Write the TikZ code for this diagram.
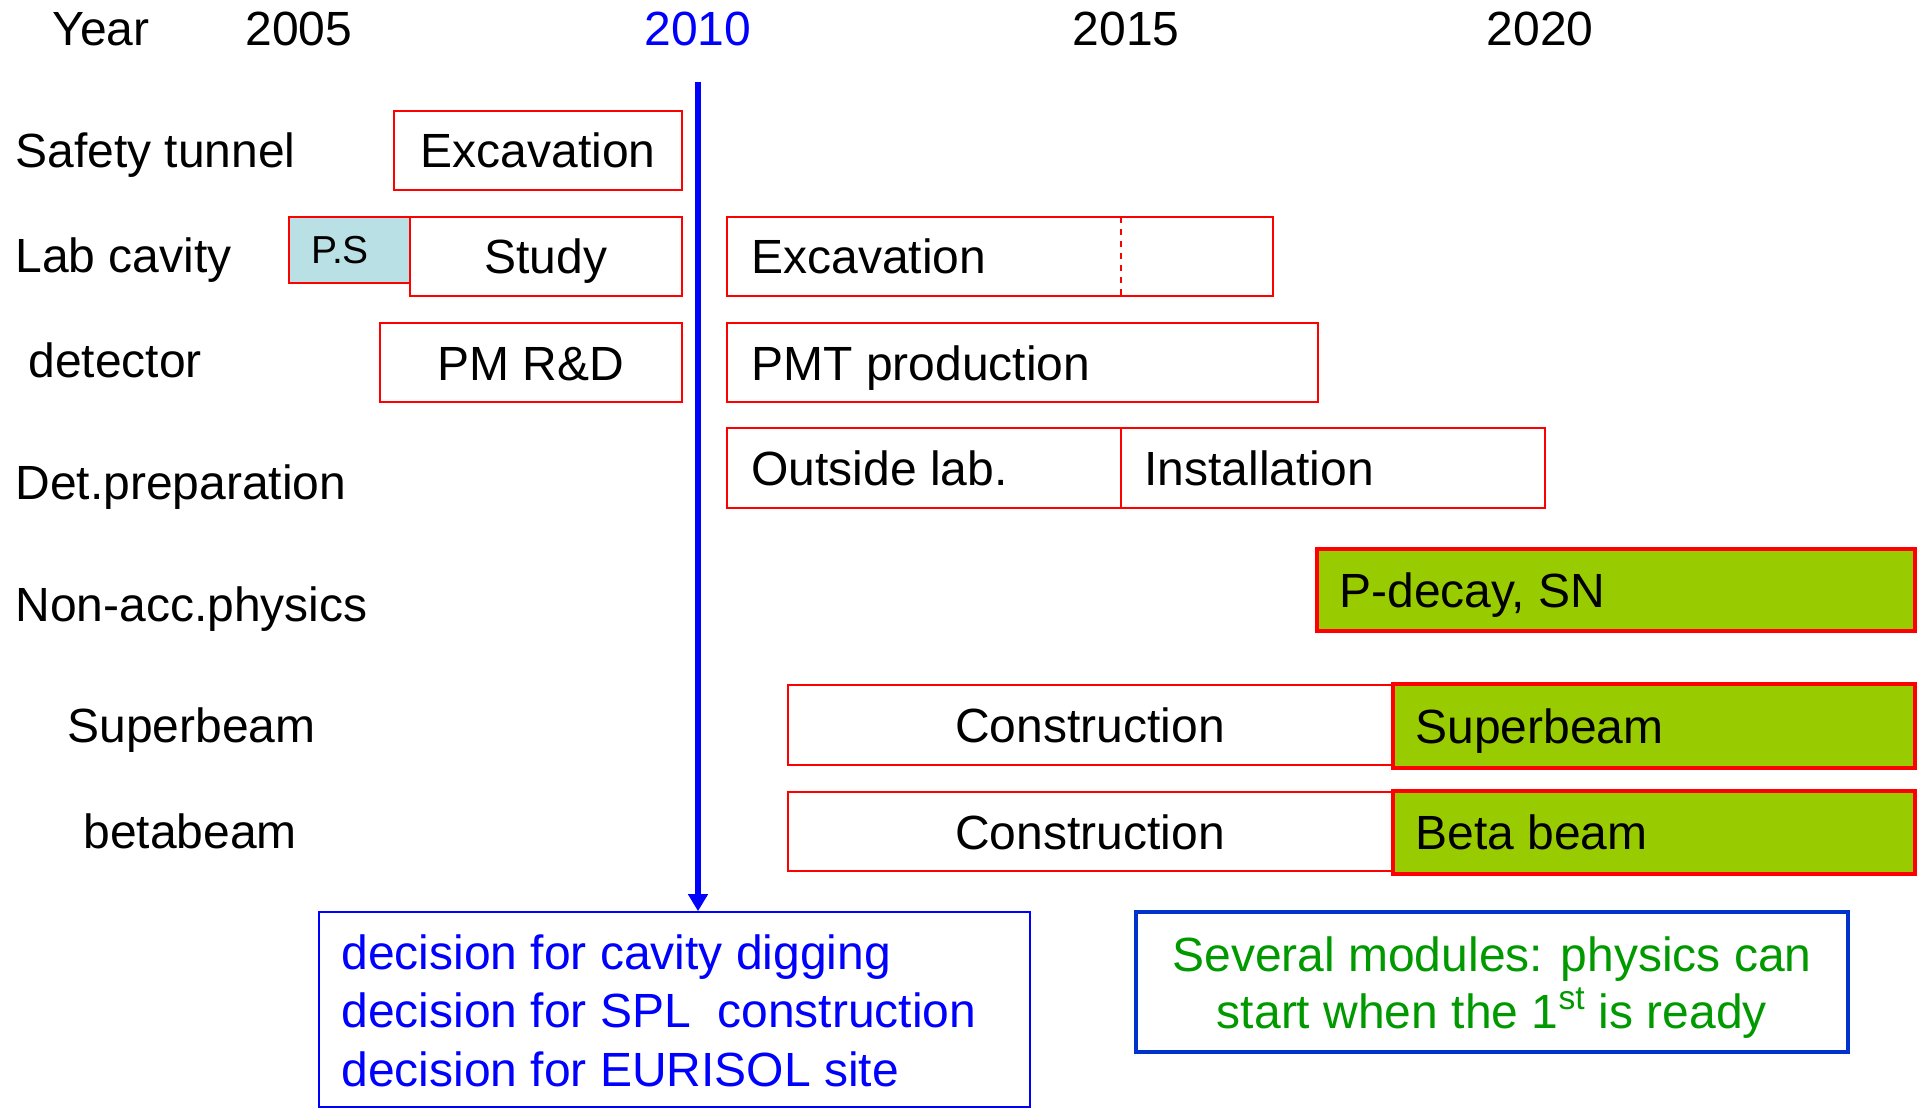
\documentclass[tikz,border=0pt]{standalone}
\usepackage{fontspec}
\setmainfont{Liberation Sans}
\usetikzlibrary{fit,arrows.meta}
\definecolor{barred}{RGB}{255,0,0}
\definecolor{physgreen}{RGB}{153,204,0}
\definecolor{psblue}{RGB}{185,224,228}
\definecolor{txtgreen}{RGB}{0,153,0}
\definecolor{boxblue}{RGB}{0,51,204}
\begin{document}
\begin{tikzpicture}[x=0.5pt,y=-0.5pt,
  every node/.style={inner sep=0pt, font=\fontsize{24}{29}\selectfont},
  lbl/.style={anchor=base west},
  ctr/.style={anchor=base},
  bar/.style={draw=barred, line width=0.9pt, inner sep=0pt},
  phys/.style={draw=barred, line width=1.8pt, fill=physgreen, inner sep=0pt},
  decbox/.style={draw=blue, line width=0.8pt, inner sep=0pt},
  modbox/.style={draw=boxblue, line width=1.8pt, inner sep=0pt}]
\path[use as bounding box] (0,0) rectangle (1921,1112);

% header
\node[lbl] (year) at (52,46) {Year};
\node[ctr] (y2005) at (299,46) {2005};
\node[ctr, text=blue] (y2010) at (698,46) {2010};
\node[ctr] (y2015) at (1126,46) {2015};
\node[ctr] (y2020) at (1540,46) {2020};

% row labels
\node[lbl] (lsafety) at (15,168) {Safety tunnel};
\node[lbl] (llab) at (15,273) {Lab cavity};
\node[lbl] (ldet) at (28,378) {detector};
\node[lbl] (lprep) at (15,499) {Det.preparation};
\node[lbl] (lnon) at (15,621) {Non-acc.physics};
\node[lbl] (lsuper) at (67,742) {Superbeam};
\node[lbl] (lbeta) at (83,848) {betabeam};

% safety tunnel
\node[bar, fit={(394,111)(682,190)}] (sexc) {};
\node[ctr] (sexct) at (538,168) {Excavation};

% lab cavity
\node[bar, fill=psblue, fit={(289,217)(410,283)}] (ps) {};
\node[ctr, font=\fontsize{19.5}{23}\selectfont] (pst) at (340,264) {P.S};
\node[bar, fit={(410,217)(682,296)}] (study) {};
\node[ctr] (studyt) at (546,274) {Study};
\node[bar, fit={(727,217)(1273,296)}] (lexc) {};
\draw[barred, dashed, line width=0.6pt] (1121,217) -- (1121,296);
\node[lbl] (lexct) at (751,274) {Excavation};

% detector
\node[bar, fit={(380,323)(682,402)}] (pmrd) {};
\node[ctr] (pmrdt) at (531,380) {PM R\&D};
\node[bar, fit={(727,323)(1318,402)}] (pmt) {};
\node[lbl] (pmtt) at (751,380) {PMT production};

% det preparation
\node[bar, fit={(727,428)(1121,508)}] (out) {};
\node[lbl] (outt) at (751,485) {Outside lab.};
\node[bar, fit={(1121,428)(1545,508)}] (inst) {};
\node[lbl] (instt) at (1144,485) {Installation};

% non-acc physics
\node[phys, fit={(1317,549)(1915,631)}] (pdec) {};
\node[lbl] (pdect) at (1339,607) {P-decay, SN};

% superbeam
\node[bar, fit={(788,685)(1393,765)}] (sbc) {};
\node[ctr] (sbct) at (1090,742) {Construction};
\node[phys, fit={(1393,684)(1915,768)}] (sbp) {};
\node[lbl] (sbpt) at (1415,743) {Superbeam};

% betabeam
\node[bar, fit={(788,792)(1393,871)}] (bbc) {};
\node[ctr] (bbct) at (1090,849) {Construction};
\node[phys, fit={(1393,791)(1915,874)}] (bbp) {};
\node[lbl] (bbpt) at (1415,849) {Beta beam};

% decision box
\node[decbox, fit={(319,912)(1030,1107)}] (dec) {};
\node[lbl, text=blue] (dec1) at (341,969) {decision for cavity digging};
\node[lbl, text=blue] (dec2) at (341,1027) {decision for SPL\ \ construction};
\node[lbl, text=blue] (dec3) at (341,1086) {decision for EURISOL site};

% modules box
\node[modbox, fit={(1136,912)(1848,1052)}] (mod) {};
\node[ctr, text=txtgreen] (mod1) at (1492,971) {Several modules: physics can};
\node[ctr, text=txtgreen] (mod2) at (1492,1028) {start when the 1\textsuperscript{st} is ready};

% 2010 decision line
\coordinate (dtop) at (698,82);
\draw[blue, line width=2.8pt, -{Triangle[width=9.5pt,length=8.5pt]}] (dtop) -- (dtop |- dec.north);
\end{tikzpicture}
\end{document}
